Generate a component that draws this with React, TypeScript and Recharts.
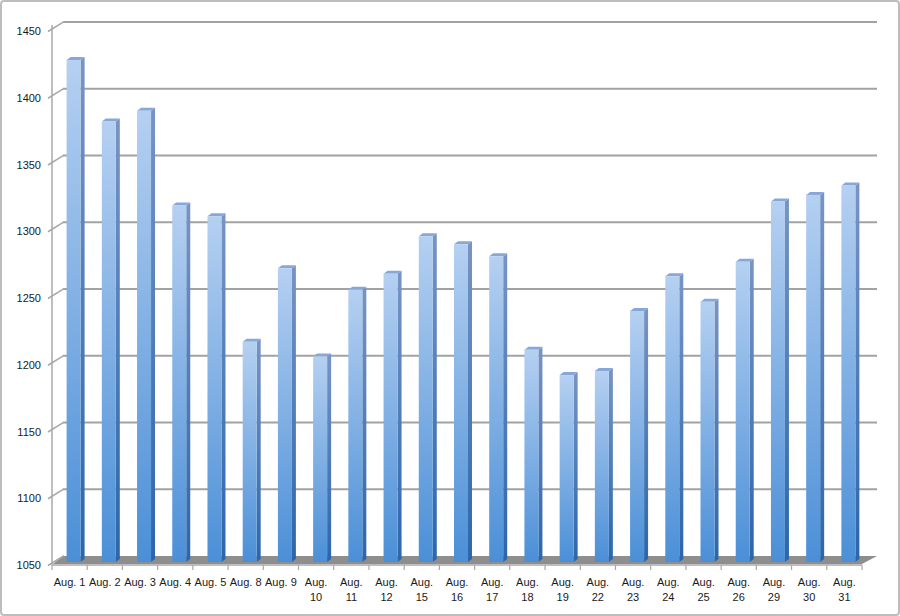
import React from 'react';
import { BarChart, Bar, XAxis, YAxis, CartesianGrid } from 'recharts';

const dates = [
  'Aug. 1', 'Aug. 2', 'Aug. 3', 'Aug. 4', 'Aug. 5', 'Aug. 8', 'Aug. 9', 'Aug. 10',
  'Aug. 11', 'Aug. 12', 'Aug. 15', 'Aug. 16', 'Aug. 17', 'Aug. 18', 'Aug. 19', 'Aug. 22',
  'Aug. 23', 'Aug. 24', 'Aug. 25', 'Aug. 26', 'Aug. 29', 'Aug. 30', 'Aug. 31',
];
const values = [
  1426, 1380, 1388, 1317, 1309, 1215, 1270, 1204,
  1254, 1266, 1294, 1288, 1279, 1209, 1190, 1193,
  1238, 1264, 1245, 1275, 1320, 1325, 1332,
];
const yTicks = [1050, 1100, 1150, 1200, 1250, 1300, 1350, 1400, 1450];

const data = dates.map((date, i) => ({ date, value: values[i] }));

// layout
const W = 900;
const H = 616;
const M = { top: 31, right: 38, bottom: 0, left: 0 };
const Y_AXIS_W = 52;
const X_AXIS_H = 51;
const PLOT_W = W - M.left - M.right - Y_AXIS_W;
const STEP = PLOT_W / dates.length;

// 3d look: how far the back wall sits from the front plane
const BACK_DX_L = 11;
const BACK_DX_R = 15;
const BACK_DY = -9;
// bar sits a bit inside the depth
const BAR_DX = 3.6;
const BAR_DY = -3;
const BAR_DEPTH_X = 4;
const BAR_DEPTH_Y = -3;

const FONT = '"Liberation Sans", Arial, sans-serif';

const GridLine = (props: any) => {
  const { x1, x2, y1 } = props;
  const bottom = M.top + (H - M.top - X_AXIS_H);
  if (Math.abs(y1 - bottom) < 1) {
    // floor plane + axis lines
    return (
      <g key={props.key}>
        <polygon
          points={`${x1 + 1},${y1 - 1} ${x2},${y1 - 1} ${x2 + BACK_DX_R},${y1 + BACK_DY} ${x1 + BACK_DX_L},${y1 + BACK_DY}`}
          fill="#8e8e8e"
        />
        <line x1={x1} y1={M.top - 6} x2={x1} y2={y1} stroke="#a8a8a8" strokeWidth={1.5} />
      </g>
    );
  }
  return (
    <line
      key={props.key}
      x1={x1 + BACK_DX_L}
      x2={x2 + BACK_DX_R}
      y1={y1 + BACK_DY}
      y2={y1 + BACK_DY}
      stroke="#a2a2a2"
      strokeWidth={2}
    />
  );
};

const YTick = (props: any) => {
  const { x, y, payload } = props;
  return (
    <g>
      <line x1={x - 4} y1={y + 0.5} x2={x + BACK_DX_L + 1} y2={y + BACK_DY - 0.3} stroke="#a8a8a8" strokeWidth={1.5} />
      <text x={x - 11} y={y} dy={4} textAnchor="end" fontFamily={FONT} fontSize={11} fill="#1a1a1a">
        {payload.value}
      </text>
    </g>
  );
};

const XTick = (props: any) => {
  const { x, y, payload, index } = props;
  const label: string = payload.value;
  const parts = label.length > 6 ? label.split(' ') : [label];
  return (
    <g>
      <line x1={x - STEP / 2} x2={x - STEP / 2} y1={y} y2={y + 5} stroke="#a8a8a8" strokeWidth={1.2} />
      {index === dates.length - 1 && (
        <line x1={x + STEP / 2} x2={x + STEP / 2} y1={y} y2={y + 5} stroke="#a8a8a8" strokeWidth={1.2} />
      )}
      <text x={x} y={y + 21} textAnchor="middle" fontFamily={FONT} fontSize={11} fill="#1a1a1a">
        {parts.map((p, i) => (
          <tspan key={i} x={x} dy={i === 0 ? 0 : 15}>
            {p}
          </tspan>
        ))}
      </text>
    </g>
  );
};

const Bar3D = (props: any) => {
  const { x, y, width, height } = props;
  const fx = x + BAR_DX;
  const fy = y + BAR_DY;
  const fb = fy + height;
  const dx = BAR_DEPTH_X;
  const dy = BAR_DEPTH_Y;
  return (
    <g>
      <polygon
        points={`${fx + width},${fy} ${fx + width + dx},${fy + dy} ${fx + width + dx},${fb + dy} ${fx + width},${fb}`}
        fill="url(#barSide)"
      />
      <polygon
        points={`${fx},${fy} ${fx + width},${fy} ${fx + width + dx},${fy + dy} ${fx + dx},${fy + dy}`}
        fill="#86a7d8"
      />
      <rect x={fx} y={fy} width={width} height={height} fill="url(#barFront)" />
    </g>
  );
};

export default function App() {
  return (
    <div style={{ position: 'absolute', left: 0, top: 0, width: W, height: H, background: '#fff' }}>
      <div
        style={{
          position: 'absolute',
          left: 0,
          top: 0,
          width: W,
          height: H,
          boxSizing: 'border-box',
          border: '2px solid #bdbdbd',
          borderRadius: 4,
        }}
      />
      <BarChart width={W} height={H} data={data} margin={M} barSize={14}>
        <defs>
          <linearGradient id="barFront" x1="0" y1="0" x2="0" y2="1">
            <stop offset="0%" stopColor="#b5d0f1" />
            <stop offset="100%" stopColor="#4b8fd7" />
          </linearGradient>
          <linearGradient id="barSide" x1="0" y1="0" x2="0" y2="1">
            <stop offset="0%" stopColor="#7894c4" />
            <stop offset="100%" stopColor="#2c66a9" />
          </linearGradient>
        </defs>
        <CartesianGrid vertical={false} horizontal={GridLine} />
        <XAxis
          dataKey="date"
          height={X_AXIS_H}
          interval={0}
          tickSize={0}
          tickMargin={0}
          tickLine={false}
          axisLine={{ stroke: '#a8a8a8', strokeWidth: 1.5 }}
          tick={<XTick />}
        />
        <YAxis
          width={Y_AXIS_W}
          domain={[1050, 1450]}
          ticks={yTicks}
          interval={0}
          tickSize={0}
          tickMargin={0}
          tickLine={false}
          axisLine={false}
          tick={<YTick />}
        />
        <Bar dataKey="value" shape={<Bar3D />} isAnimationActive={false} />
      </BarChart>
    </div>
  );
}
